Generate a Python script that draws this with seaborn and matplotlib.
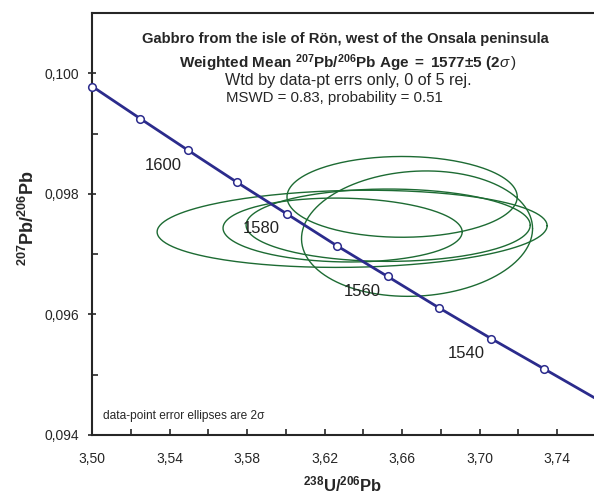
import numpy as np
import pandas as pd
import matplotlib
matplotlib.use('Agg')
import matplotlib.pyplot as plt
from matplotlib.ticker import MultipleLocator, FixedLocator, FuncFormatter
import seaborn as sns

# Tera-Wasserburg concordia marks, 10 Ma apart
conc_age = [1620, 1610, 1600, 1590, 1580, 1570, 1560, 1550, 1540, 1530, 1520]
conc_x = [3.5002, 3.5248, 3.5497, 3.5749, 3.6004, 3.6263, 3.6525, 3.6790, 3.7059, 3.7331, 3.7607]
conc_y = [0.09978, 0.09925, 0.09872, 0.09819, 0.09767, 0.09714, 0.09663, 0.09611, 0.09560, 0.09510, 0.09459]
label_ages = [1600, 1580, 1560, 1540]

# data points: centre, 2-sigma half widths, error correlation
ell_x = [3.6600, 3.6677, 3.6342, 3.6293, 3.6528]
ell_y = [0.09795, 0.09734, 0.09742, 0.09740, 0.09748]
ell_sx = [0.0594, 0.0596, 0.1006, 0.0617, 0.0733]
ell_sy = [0.00067, 0.00104, 0.00064, 0.00053, 0.00060]
ell_rho = [0.0, 0.08, 0.08, -0.06, 0.0]

x_ticks = [3.50, 3.54, 3.58, 3.62, 3.66, 3.70, 3.74]
y_ticks = [0.094, 0.096, 0.098, 0.100]

LINE = '#2b2b8c'
GREEN = '#1d6b33'

sns.set_style('ticks')
plt.rcParams['font.family'] = ['Liberation Sans', 'DejaVu Sans']
plt.rcParams['mathtext.fontset'] = 'custom'
plt.rcParams['mathtext.rm'] = 'Liberation Sans'
plt.rcParams['mathtext.bf'] = 'Liberation Sans:bold'
plt.rcParams['mathtext.it'] = 'Liberation Sans:italic'

fig = plt.figure(figsize=(5.94, 4.96), dpi=100)
ax = fig.add_axes([92 / 594, 61 / 496, 502 / 594, 422 / 496])

# error ellipses
t = np.linspace(0, 2 * np.pi, 240)
for i in range(len(ell_x)):
    ex = ell_x[i] + ell_sx[i] * np.cos(t)
    ey = ell_y[i] + ell_sy[i] * (ell_rho[i] * np.cos(t) + np.sqrt(1 - ell_rho[i] ** 2) * np.sin(t))
    df = pd.DataFrame({'x': ex, 'y': ey})
    sns.lineplot(data=df, x='x', y='y', sort=False, estimator=None, color=GREEN, lw=1.0, ax=ax)

# concordia
conc = pd.DataFrame({'age': conc_age, 'x': conc_x, 'y': conc_y})
sns.lineplot(data=conc, x='x', y='y', sort=False, estimator=None, color=LINE, lw=2.0, ax=ax)
marks = conc[conc['age'] >= 1530]
sns.scatterplot(data=marks, x='x', y='y', s=30, facecolor='white', edgecolor=LINE,
                linewidth=1.1, zorder=5, clip_on=False, ax=ax)
for _, r in conc[conc['age'].isin(label_ages)].iterrows():
    ax.annotate(str(int(r['age'])), (r['x'], r['y']), xytext=(-25, -15),
                textcoords='offset pixels', ha='center', va='center', fontsize=12, color='#222222')

ax.set_xlim(3.50, 3.759)
ax.set_ylim(0.094, 0.101)
ax.xaxis.set_major_locator(FixedLocator(x_ticks))
ax.xaxis.set_minor_locator(MultipleLocator(0.02))
ax.yaxis.set_major_locator(FixedLocator(y_ticks))
ax.yaxis.set_minor_locator(MultipleLocator(0.001))
ax.xaxis.set_major_formatter(FuncFormatter(lambda v, p: f'{v:.2f}'.replace('.', ',')))
ax.yaxis.set_major_formatter(FuncFormatter(lambda v, p: f'{v:.3f}'.replace('.', ',')))
ax.tick_params(axis='x', which='both', direction='in', length=4, width=1.2, pad=12, labelsize=10)
ax.tick_params(axis='y', which='major', direction='inout', length=6, width=1.2, pad=6, labelsize=10)
ax.tick_params(axis='y', which='minor', direction='in', length=4, width=1.2)
ax.spines['right'].set_visible(False)
for s in ['left', 'bottom', 'top']:
    ax.spines[s].set_linewidth(1.5)

ax.set_xlabel(r'$\mathbf{{}^{238}U/{}^{206}Pb}$', fontsize=12, labelpad=6)
ax.set_ylabel(r'$\mathbf{{}^{207}Pb/{}^{206}Pb}$', fontsize=13)
ax.yaxis.set_label_coords(-0.107, 0.514)

tr = ax.transAxes
ax.text(0.505, 0.938, 'Gabbro from the isle of Rön, west of the Onsala peninsula',
        transform=tr, ha='center', va='center', fontsize=10.6, fontweight='bold')
ax.text(0.510, 0.882, r'$\mathbf{Weighted\ Mean\ {}^{207}Pb/{}^{206}Pb\ Age\ =\ 1577{\pm}5\ (2}\sigma\,)$',
        transform=tr, ha='center', va='center', fontsize=11)
ax.text(0.510, 0.839, 'Wtd by data-pt errs only, 0 of 5 rej.',
        transform=tr, ha='center', va='center', fontsize=11.6)
ax.text(0.482, 0.799, 'MSWD = 0.83, probability = 0.51',
        transform=tr, ha='center', va='center', fontsize=10.8)
ax.text(0.022, 0.045, 'data-point error ellipses are 2σ',
        transform=tr, ha='left', va='center', fontsize=8.6)

fig.savefig('out.png', dpi=100)
